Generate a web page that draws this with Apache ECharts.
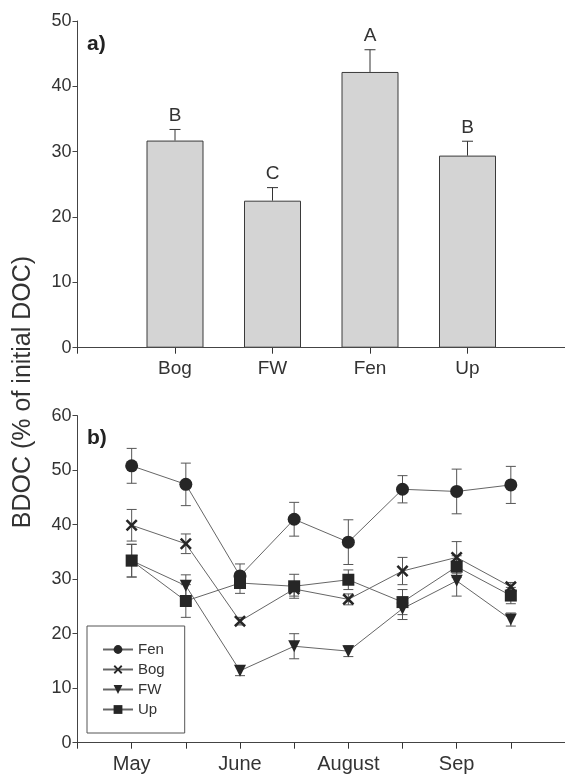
<!DOCTYPE html>
<html>
<head>
<meta charset="utf-8">
<script src="https://cdn.jsdelivr.net/npm/echarts@6/dist/echarts.min.js"></script>
<style>
html,body{margin:0;padding:0;background:#fff;overflow:hidden;}
#chart{width:565px;height:779px;}
</style>
</head>
<body>
<div id="chart"></div>
<script>
// ---- Panel a) data ----
const barCategories = ['Bog', 'FW', 'Fen', 'Up'];
const barMeans = [31.7, 22.5, 42.2, 29.4];
const barErrors = [1.7, 2.0, 3.4, 2.2];
const barLetters = ['B', 'C', 'A', 'B'];
const barPositions = [1, 2, 3, 4];
const panelAYTicks = [0, 10, 20, 30, 40, 50];

// ---- Panel b) data ----
const samplingIndex = [1, 2, 3, 4, 5, 6, 7, 8];
const monthTickPositions = [1, 3, 5, 7];
const monthLabels = ['May', 'June', 'August', 'Sep'];
const seriesNames = ['Fen', 'Bog', 'FW', 'Up'];
const fenMeans = [50.8, 47.4, 30.6, 41.0, 36.8, 46.5, 46.1, 47.3];
const fenErr   = [3.2, 3.9, 2.2, 3.1, 4.1, 2.5, 4.1, 3.4];
const bogMeans = [39.9, 36.5, 22.3, 28.2, 26.3, 31.5, 34.0, 28.6];
const bogErr   = [2.9, 1.8, 0.7, 1.3, 1.0, 2.5, 2.9, 0.8];
const fwMeans  = [33.4, 28.8, 13.2, 17.7, 16.8, 24.6, 29.7, 22.6];
const fwErr    = [3.0, 2.0, 0.9, 2.3, 1.0, 2.0, 2.8, 1.2];
const upMeans  = [33.4, 26.0, 29.3, 28.7, 29.9, 25.8, 32.3, 27.0];
const upErr    = [3.0, 3.0, 1.9, 2.2, 1.8, 2.3, 2.0, 1.5];
const panelBYTicks = [0, 10, 20, 30, 40, 50, 60];

const FONT = 'Liberation Sans, Arial, Helvetica, sans-serif';
const INK = '#333';
const AXIS = '#444';

const xSymbol = 'path://M0,1.5L1.5,0L5,3.5L8.5,0L10,1.5L6.5,5L10,8.5L8.5,10L5,6.5L1.5,10L0,8.5L3.5,5Z';

const chart = echarts.init(document.getElementById('chart'), null, {renderer: 'canvas'});

function yAxisCfg(gridIndex, ticks) {
  return {
    type: 'value', gridIndex: gridIndex,
    min: ticks[0], max: ticks[ticks.length - 1], interval: ticks[1] - ticks[0],
    axisLine: {show: true, lineStyle: {color: AXIS, width: 1}},
    axisTick: {show: true, length: 5, lineStyle: {color: AXIS}},
    axisLabel: {fontSize: 18, color: INK, fontFamily: FONT, margin: 6},
    splitLine: {show: false}
  };
}
function topBorder(gridIndex, max) {
  return {
    type: 'value', gridIndex: gridIndex, position: 'top', min: 0, max: max,
    axisLine: {show: true, lineStyle: {color: AXIS, width: 1}},
    axisTick: {show: false}, axisLabel: {show: false}, splitLine: {show: false}
  };
}

function errRender(color, capHalf, withLetters) {
  return function (params, api) {
    const x = api.value(0), lo = api.value(1), hi = api.value(2);
    const pLo = api.coord([x, lo]);
    const pHi = api.coord([x, hi]);
    const st = {stroke: color, lineWidth: 1};
    const children = [
      {type: 'line', shape: {x1: pLo[0], y1: pLo[1], x2: pHi[0], y2: pHi[1]}, style: st},
      {type: 'line', shape: {x1: pHi[0] - capHalf, y1: pHi[1], x2: pHi[0] + capHalf, y2: pHi[1]}, style: st}
    ];
    if (!withLetters) {
      children.push({type: 'line', shape: {x1: pLo[0] - capHalf, y1: pLo[1], x2: pLo[0] + capHalf, y2: pLo[1]}, style: st});
    } else {
      children.push({type: 'text', style: {text: barLetters[params.dataIndex], x: pHi[0], y: pHi[1] - 4,
        align: 'center', verticalAlign: 'bottom', fontSize: 19, fontFamily: FONT, fill: INK}});
    }
    return {type: 'group', children: children};
  };
}

const lineDefs = [
  {name: 'Fen', means: fenMeans, err: fenErr, symbol: 'circle', size: 13, rotate: 0},
  {name: 'Bog', means: bogMeans, err: bogErr, symbol: xSymbol, size: 12, rotate: 0},
  {name: 'FW',  means: fwMeans,  err: fwErr,  symbol: 'triangle', size: 12, rotate: 180},
  {name: 'Up',  means: upMeans,  err: upErr,  symbol: 'rect', size: 12, rotate: 0}
];

const series = [];
series.push({
  type: 'bar', xAxisIndex: 0, yAxisIndex: 0, barWidth: 57, silent: true, z: 2,
  data: barCategories.map((c, i) => [barPositions[i], barMeans[i]]),
  itemStyle: {color: '#d4d4d4', borderColor: '#3a3a3a', borderWidth: 1}
});
series.push({
  type: 'custom', xAxisIndex: 0, yAxisIndex: 0, silent: true, z: 3,
  renderItem: errRender('#333', 5.5, true),
  encode: {x: 0, y: [1, 2]},
  data: barCategories.map((c, i) => [barPositions[i], barMeans[i], barMeans[i] + barErrors[i]])
});
lineDefs.forEach(d => {
  series.push({
    type: 'custom', xAxisIndex: 2, yAxisIndex: 1, silent: true, z: 2,
    renderItem: errRender('#555', 5, false),
    encode: {x: 0, y: [1, 2]},
    data: samplingIndex.map((t, i) => [t, d.means[i] - d.err[i], d.means[i] + d.err[i]])
  });
});
lineDefs.forEach(d => {
  series.push({
    name: d.name, type: 'line', xAxisIndex: 2, yAxisIndex: 1, z: 4,
    symbol: d.symbol, symbolSize: d.size, symbolRotate: d.rotate, showAllSymbol: true,
    lineStyle: {color: '#666', width: 1},
    itemStyle: {color: '#262626'},
    emphasis: {disabled: true},
    data: samplingIndex.map((t, i) => [t, d.means[i]])
  });
});

const option = {
  animation: false,
  backgroundColor: '#fff',
  textStyle: {fontFamily: FONT},
  grid: [
    {left: 77.5, top: 21, right: 0, height: 326.7},
    {left: 77.5, top: 415.7, right: 0, height: 327}
  ],
  xAxis: [
    {
      type: 'value', gridIndex: 0, min: 0, max: 5, interval: 1,
      axisLine: {show: true, onZero: false, lineStyle: {color: AXIS, width: 1}},
      axisTick: {show: true, length: 6, lineStyle: {color: '#333', width: 1}},
      axisLabel: {customValues: barPositions, formatter: v => barCategories[barPositions.indexOf(v)] || '',
        fontSize: 19, color: INK, fontFamily: FONT, margin: 12},
      splitLine: {show: false}
    },
    topBorder(0, 5),
    {
      type: 'value', gridIndex: 1, min: 0, max: 9, interval: 1,
      axisLine: {show: true, onZero: false, lineStyle: {color: AXIS, width: 1}},
      axisTick: {show: true, length: 6, lineStyle: {color: '#333', width: 1}},
      axisLabel: {customValues: monthTickPositions,
        formatter: v => monthLabels[monthTickPositions.indexOf(v)] || '',
        fontSize: 20, color: INK, fontFamily: FONT, margin: 12},
      splitLine: {show: false}
    },
    topBorder(1, 9)
  ],
  yAxis: [yAxisCfg(0, panelAYTicks), yAxisCfg(1, panelBYTicks)],
  legend: {
    data: seriesNames, orient: 'vertical', left: 87, top: 626,
    itemWidth: 30, itemHeight: 11, itemGap: 5,
    padding: [16, 20, 16, 15],
    borderColor: '#555', borderWidth: 1, backgroundColor: '#fff',
    textStyle: {fontSize: 15, color: INK, fontFamily: FONT},
    selectedMode: false
  },
  graphic: [
    {type: 'text', x: 23, y: 392, rotation: Math.PI / 2,
      style: {text: 'BDOC (% of initial DOC)', fontSize: 25, fontFamily: FONT, fill: INK, align: 'center', verticalAlign: 'middle'}},
    {type: 'text', x: 87, y: 44,
      style: {text: 'a)', fontSize: 21, fontWeight: 'bold', fontFamily: FONT, fill: '#222', align: 'left', verticalAlign: 'middle'}},
    {type: 'text', x: 87, y: 438,
      style: {text: 'b)', fontSize: 21, fontWeight: 'bold', fontFamily: FONT, fill: '#222', align: 'left', verticalAlign: 'middle'}}
  ],
  series: series
};
chart.setOption(option);
</script>
</body>
</html>
